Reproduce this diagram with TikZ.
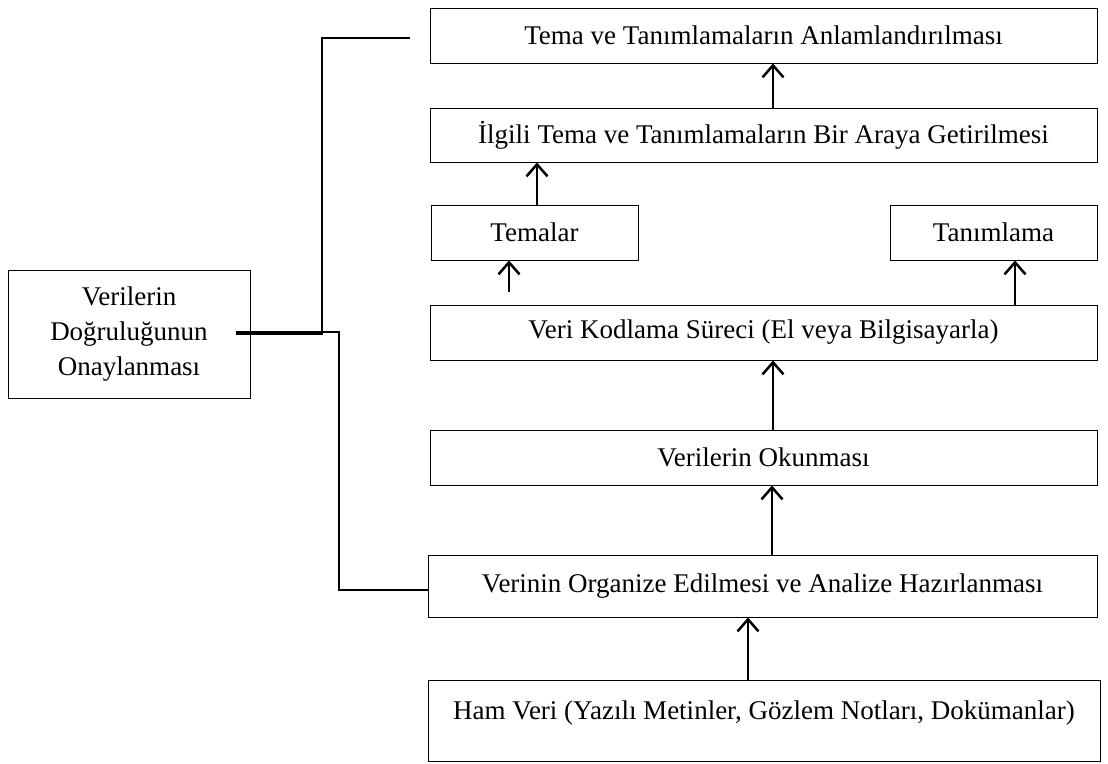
\documentclass[tikz,border=0pt]{standalone}
\usepackage{fontspec}
\setmainfont{Liberation Serif}
\usetikzlibrary{arrows.meta}
\tikzset{
	box/.style={draw, line width=0.9pt, inner sep=0pt, minimum height=55pt, font=\fontsize{27}{35}\selectfont},
	arr/.style={line width=2.5pt, -{Straight Barb[length=12pt,width=21pt]}},
	conn/.style={line width=2.5pt},
	thickconn/.style={line width=3.8pt}
}

\begin{document}
\begin{tikzpicture}[x=1pt, y=-1pt]
		%%%%% START %%%%%
		\useasboundingbox (0,0) rectangle (1108,763);
		
		\node[box, minimum width=667pt] (tema) at (763.5, 35.5) {Tema ve Tanımlamaların Anlamlandırılması};
		\node[box, minimum width=667pt, minimum height=54pt] (ilgili) at (763.5, 135) {İlgili Tema ve Tanımlamaların Bir Araya Getirilmesi};
		\node[box, minimum width=207pt] (temalar) at (534.5, 232.5) {Temalar};
		\node[box, minimum width=207pt] (tanim) at (993.5, 232.5) {Tanımlama};
		\node[box, minimum width=667pt] (kodlama) at (763.5, 332.5) {Veri Kodlama Süreci (El veya Bilgisayarla)};
		\node[box, minimum width=667pt] (okunma) at (763.5, 457.5) {Verilerin Okunması};
		\node[box, minimum width=669pt, minimum height=62pt] (organize) at (762.5, 586) {Verinin Organize Edilmesi ve Analize Hazırlanması};
		\node[box, anchor=north, minimum width=672pt, minimum height=0pt, text height=39pt, text depth=42pt] (ham) at (764, 680) {Ham Veri (Yazılı Metinler, Gözlem Notları, Dokümanlar)};
		
		\node[box, minimum width=242pt, minimum height=128pt, align=center] (dogruluk) at (129, 334) {Verilerin\\Doğruluğunun\\Onaylanması};
		
		% upward arrows
		\draw[arr] ([xshift=-16pt]ham.north) -- ([xshift=-16pt]ham.north |- organize.south);
		\draw[arr] ([xshift=9.5pt]organize.north) -- ([xshift=9.5pt]organize.north |- okunma.south);
		\draw[arr] ([xshift=9.5pt]okunma.north) -- ([xshift=9.5pt]okunma.north |- kodlama.south);
		\coordinate (k1) at (509, 292);
		\draw[arr] (k1) -- (k1 |- temalar.south);
		\draw[arr] ([xshift=21.5pt]tanim.south |- kodlama.north) -- ([xshift=21.5pt]tanim.south);
		\draw[arr] ([xshift=2.5pt]temalar.north) -- ([xshift=2.5pt]temalar.north |- ilgili.south);
		\draw[arr] ([xshift=9.5pt]ilgili.north) -- ([xshift=9.5pt]tema.south);
		
		% left connectors
		\coordinate (j) at (322, 333);
		\coordinate (t1) at ([xshift=-20pt, yshift=-2.5pt]tema.west);
		\draw[thickconn] ([xshift=-14pt]dogruluk.east |- j) -- ([xshift=1pt]j);
		\draw[conn] (j) |- (t1);
		\draw[conn] ([yshift=1pt]j) -| ([xshift=17pt, yshift=-4pt]j |- organize.west) -- ([yshift=-4pt]organize.west);
		%%%%% END %%%%%
\end{tikzpicture}
\end{document}
